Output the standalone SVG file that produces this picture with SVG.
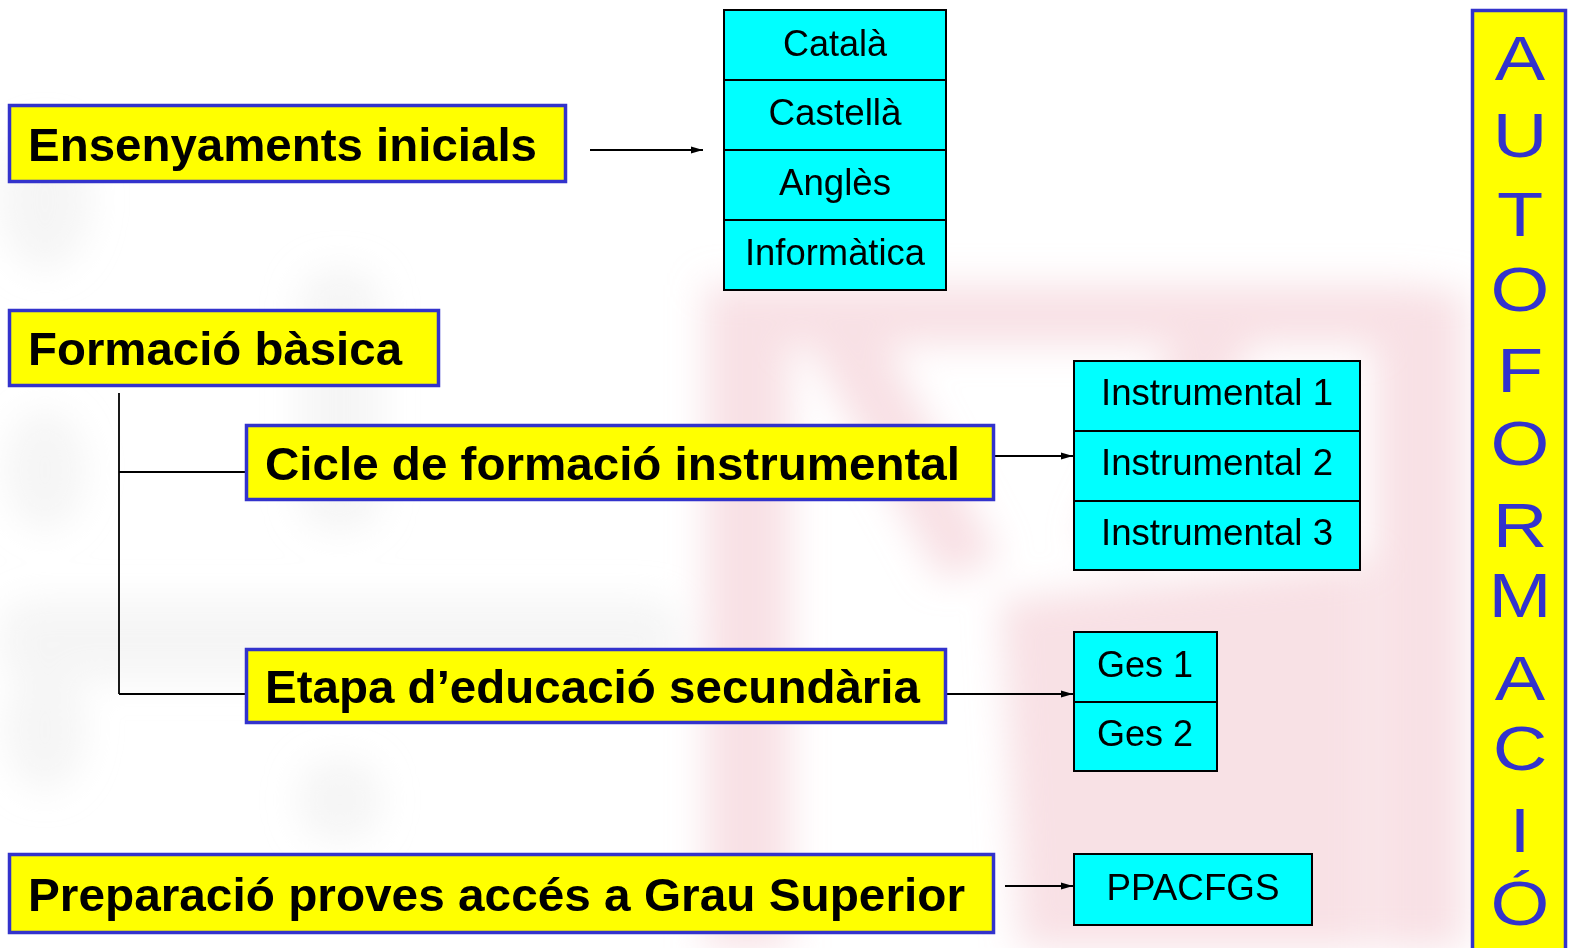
<svg xmlns="http://www.w3.org/2000/svg" width="1575" height="948" viewBox="0 0 1575 948">
<defs>
<style>
.hbox{fill:#ffff00;stroke:#3333cc;stroke-width:3.5}
.htxt{font-family:"Liberation Sans",Arial,sans-serif;font-weight:bold;font-size:47px;fill:#000}
.cell{fill:#00ffff;stroke:#000;stroke-width:2}
.ctxt{font-family:"Liberation Sans",Arial,sans-serif;font-size:37px;fill:#000;text-anchor:middle}
.conn{fill:none;stroke:#000;stroke-width:1.8}
.vert{font-family:"Liberation Sans",Arial,sans-serif;font-size:63px;fill:#3333cc;text-anchor:middle}
</style>
<marker id="ah" viewBox="0 0 12 10" refX="12" refY="5" markerWidth="12" markerHeight="10" markerUnits="userSpaceOnUse" orient="auto">
<path d="M0,1.5 L12,5 L0,8.5 Z" fill="#000"/>
</marker>
<filter id="blur" x="-20%" y="-20%" width="140%" height="140%"><feGaussianBlur stdDeviation="18"/></filter>
</defs>
<rect width="1575" height="948" fill="#ffffff"/>
<g id="watermark" filter="url(#blur)">
<g fill="#f3c9cf" opacity="0.55">
<rect x="705" y="285" width="720" height="60"/>
<rect x="705" y="300" width="85" height="648"/>
<rect x="1375" y="290" width="90" height="658"/>
<polygon points="1000,600 1370,560 1370,948 1020,948"/>
<polygon points="800,330 880,330 1000,560 940,580"/>
<polygon points="1180,330 1260,330 1140,560 1080,540"/>
</g>
<g fill="#e6e6e6" opacity="0.4">
<ellipse cx="45" cy="200" rx="45" ry="70"/>
<ellipse cx="45" cy="470" rx="40" ry="60"/>
<ellipse cx="45" cy="730" rx="40" ry="60"/>
<rect x="0" y="600" width="680" height="80" rx="30"/>
<rect x="300" y="270" width="80" height="260" rx="30"/>
<rect x="300" y="760" width="80" height="80" rx="30"/>
</g>
</g>
<g id="connectors">
<line class="conn" x1="590" y1="150" x2="703" y2="150" marker-end="url(#ah)"/>
<line class="conn" x1="119" y1="393" x2="119" y2="694"/>
<line class="conn" x1="119" y1="472" x2="245" y2="472"/>
<line class="conn" x1="119" y1="694" x2="245" y2="694"/>
<line class="conn" x1="995" y1="456" x2="1073" y2="456" marker-end="url(#ah)"/>
<line class="conn" x1="947" y1="694" x2="1073" y2="694" marker-end="url(#ah)"/>
<line class="conn" x1="1005" y1="886" x2="1073" y2="886" marker-end="url(#ah)"/>
</g>
<g id="ensenyaments">
<rect class="hbox" x="9.5" y="105.5" width="556" height="76"/>
<text class="htxt" x="28" y="161" textLength="509" lengthAdjust="spacingAndGlyphs">Ensenyaments inicials</text>
</g>
<g id="taula-inicials">
<rect class="cell" x="724" y="10" width="222" height="70"/>
<rect class="cell" x="724" y="80" width="222" height="70"/>
<rect class="cell" x="724" y="150" width="222" height="70"/>
<rect class="cell" x="724" y="220" width="222" height="70"/>
<text class="ctxt" x="835" y="56" textLength="104" lengthAdjust="spacingAndGlyphs">Català</text>
<text class="ctxt" x="835" y="125" textLength="133" lengthAdjust="spacingAndGlyphs">Castellà</text>
<text class="ctxt" x="835" y="195" textLength="112" lengthAdjust="spacingAndGlyphs">Anglès</text>
<text class="ctxt" x="835" y="265" textLength="180" lengthAdjust="spacingAndGlyphs">Informàtica</text>
</g>
<g id="formacio-basica">
<rect class="hbox" x="9.5" y="310.5" width="429" height="75"/>
<text class="htxt" x="28" y="365" textLength="374" lengthAdjust="spacingAndGlyphs">Formació bàsica</text>
</g>
<g id="cicle">
<rect class="hbox" x="246.5" y="425.5" width="747" height="74"/>
<text class="htxt" x="265" y="480" textLength="695" lengthAdjust="spacingAndGlyphs">Cicle de formació instrumental</text>
</g>
<g id="taula-instrumental">
<rect class="cell" x="1074" y="361" width="286" height="70"/>
<rect class="cell" x="1074" y="431" width="286" height="70"/>
<rect class="cell" x="1074" y="501" width="286" height="69"/>
<text class="ctxt" x="1217" y="405" textLength="232" lengthAdjust="spacingAndGlyphs">Instrumental 1</text>
<text class="ctxt" x="1217" y="475" textLength="232" lengthAdjust="spacingAndGlyphs">Instrumental 2</text>
<text class="ctxt" x="1217" y="545" textLength="232" lengthAdjust="spacingAndGlyphs">Instrumental 3</text>
</g>
<g id="etapa">
<rect class="hbox" x="246.5" y="649.5" width="699" height="73"/>
<text class="htxt" x="265" y="703" textLength="655" lengthAdjust="spacingAndGlyphs">Etapa d’educació secundària</text>
</g>
<g id="taula-ges">
<rect class="cell" x="1074" y="632" width="143" height="70"/>
<rect class="cell" x="1074" y="702" width="143" height="69"/>
<text class="ctxt" x="1145" y="677" textLength="96" lengthAdjust="spacingAndGlyphs">Ges 1</text>
<text class="ctxt" x="1145" y="746" textLength="96" lengthAdjust="spacingAndGlyphs">Ges 2</text>
</g>
<g id="preparacio">
<rect class="hbox" x="9.5" y="854.5" width="984" height="78"/>
<text class="htxt" x="28" y="911" textLength="937" lengthAdjust="spacingAndGlyphs">Preparació proves accés a Grau Superior</text>
</g>
<g id="ppacfgs">
<rect class="cell" x="1074" y="854" width="238" height="71"/>
<text class="ctxt" x="1193" y="900" textLength="173" lengthAdjust="spacingAndGlyphs">PPACFGS</text>
</g>
<g id="autoformacio">
<rect class="hbox" x="1472.5" y="10.5" width="93" height="945"/>
<g transform="translate(1520,0) scale(1.2,1)">
<text class="vert" x="0" y="80">A</text>
<text class="vert" x="0" y="157">U</text>
<text class="vert" x="0" y="236">T</text>
<text class="vert" x="0" y="311">O</text>
<text class="vert" x="0" y="392">F</text>
<text class="vert" x="0" y="465">O</text>
<text class="vert" x="0" y="547">R</text>
<text class="vert" x="0" y="617">M</text>
<text class="vert" x="0" y="700">A</text>
<text class="vert" x="0" y="770">C</text>
<text class="vert" x="0" y="852">I</text>
<text class="vert" x="0" y="925">Ó</text>
</g>
</g>
</svg>
